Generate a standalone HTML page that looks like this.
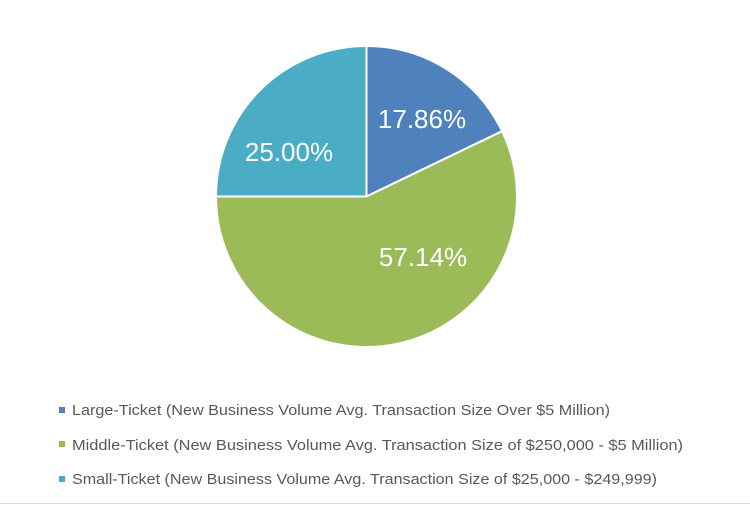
<!DOCTYPE html>
<html><head><style>
body{margin:0;background:#fff;}
svg{display:block;}
</style></head><body>
<svg width="750" height="505" xmlns="http://www.w3.org/2000/svg" font-family="Liberation Sans, sans-serif">
<rect width="750" height="505" fill="#fff"/>
<g stroke="#fff" stroke-width="2" stroke-linejoin="round">
<path d="M366.5,196.5 L366.5,46 A150.5,150.5 0 0 1 502.1,131.2 Z" fill="#4f81bd"/>
<path d="M366.5,196.5 L502.1,131.2 A150.5,150.5 0 1 1 216,196.5 Z" fill="#9bbb59"/>
<path d="M366.5,196.5 L216,196.5 A150.5,150.5 0 0 1 366.5,46 Z" fill="#4bacc6"/>
</g>
<g fill="#fff" font-size="26" text-anchor="middle">
<text x="422" y="128">17.86%</text>
<text x="289" y="161">25.00%</text>
<text x="423" y="266">57.14%</text>
</g>
<rect x="59" y="407" width="6" height="6" fill="#4f81bd"/>
<rect x="59" y="441" width="6" height="6" fill="#9bbb59"/>
<rect x="59" y="476" width="6" height="6" fill="#4bacc6"/>
<g fill="#595959" font-size="15">
<text x="72" y="415" textLength="538" lengthAdjust="spacingAndGlyphs">Large-Ticket (New Business Volume Avg. Transaction Size Over $5 Million)</text>
<text x="72" y="450" textLength="611" lengthAdjust="spacingAndGlyphs">Middle-Ticket (New Business Volume Avg. Transaction Size of $250,000 - $5 Million)</text>
<text x="72" y="484" textLength="585" lengthAdjust="spacingAndGlyphs">Small-Ticket (New Business Volume Avg. Transaction Size of $25,000 - $249,999)</text>
</g>
<line x1="0" y1="503.5" x2="750" y2="503.5" stroke="#d9d9d9" stroke-width="1"/>
</svg>
</body></html>
